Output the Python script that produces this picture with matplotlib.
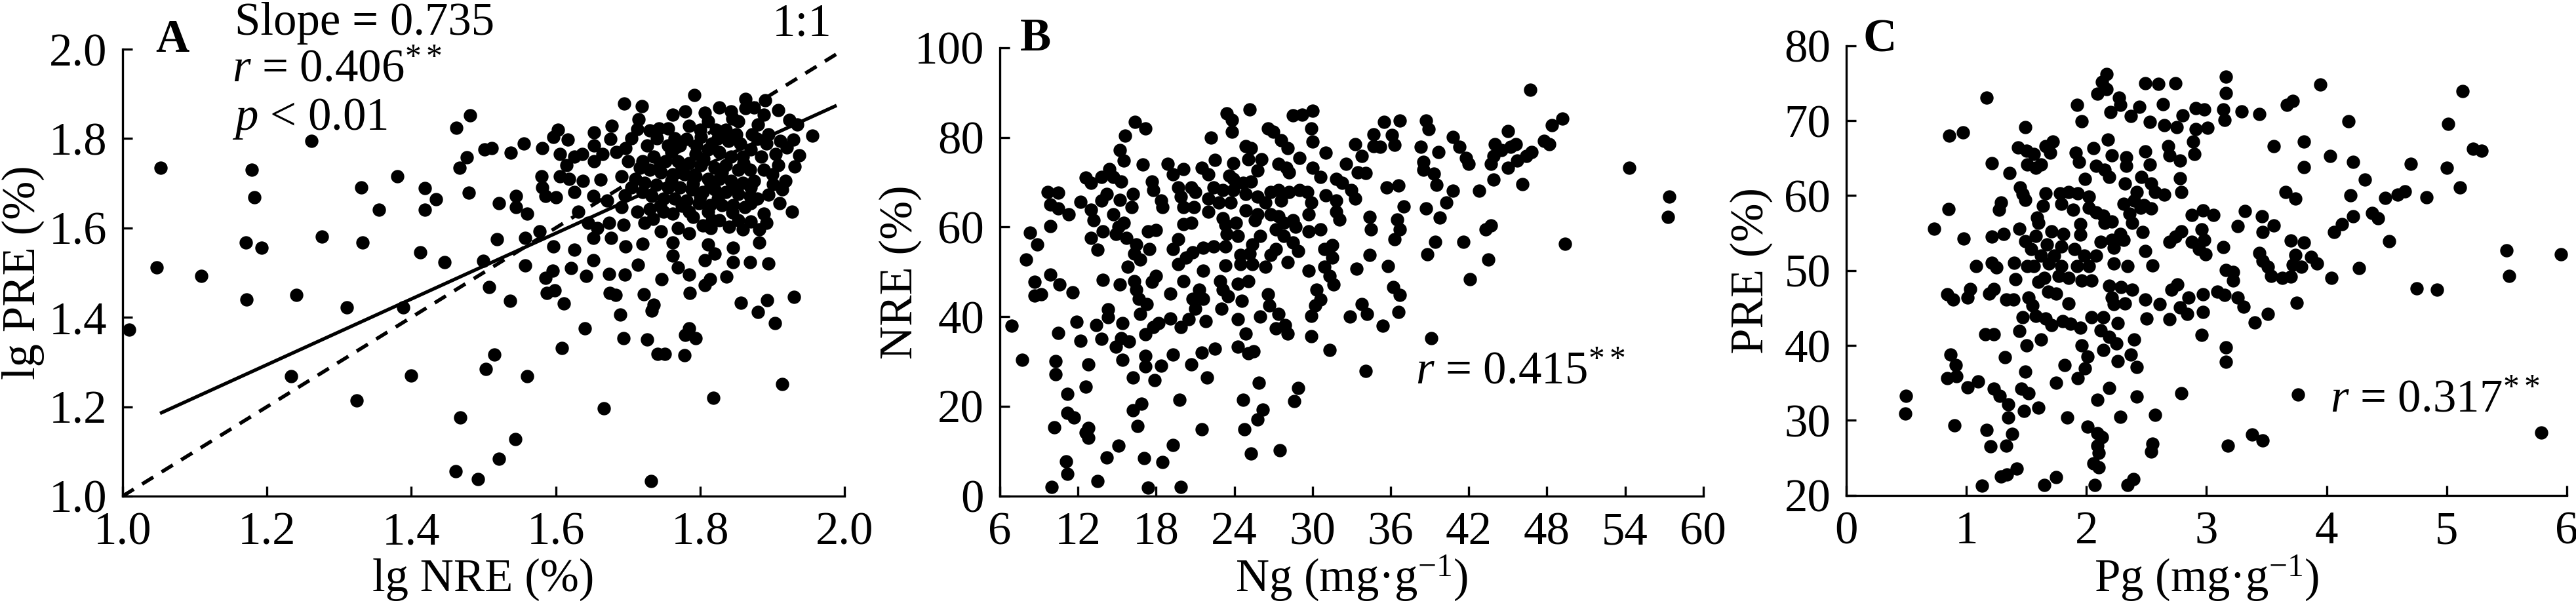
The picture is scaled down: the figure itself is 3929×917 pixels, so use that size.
import matplotlib
matplotlib.use("Agg")
import matplotlib.pyplot as plt

plt.rcParams['font.family'] = ['Liberation Serif', 'DejaVu Serif']
plt.rcParams['mathtext.fontset'] = 'custom'
plt.rcParams['mathtext.rm'] = 'Liberation Serif'
plt.rcParams['mathtext.it'] = 'Liberation Serif:italic'
plt.rcParams['mathtext.bf'] = 'Liberation Serif:bold'

# panel A: lg NRE vs lg PRE
a_pts = [
    (1.009, 1.372), (1.053, 1.735), (1.047, 1.511), (1.109, 1.493), (1.179, 1.730), (1.183, 1.668),
    (1.171, 1.567), (1.193, 1.556), (1.172, 1.440), (1.241, 1.450), (1.262, 1.795), (1.276, 1.580),
    (1.233, 1.268), (1.311, 1.423), (1.324, 1.214), (1.331, 1.691), (1.332, 1.567), (1.355, 1.641),
    (1.381, 1.715), (1.389, 1.423), (1.400, 1.270), (1.412, 1.546), (1.419, 1.689), (1.419, 1.641),
    (1.434, 1.664), (1.446, 1.524), (1.462, 1.824), (1.481, 1.852), (1.467, 1.735), (1.477, 1.758),
    (1.480, 1.679), (1.468, 1.176), (1.461, 1.056), (1.492, 1.038), (1.500, 1.527), (1.501, 1.775),
    (1.792, 1.897), (1.695, 1.878), (1.719, 1.872), (1.715, 1.843), (1.713, 1.821), (1.762, 1.853),
    (1.779, 1.860), (1.807, 1.858), (1.827, 1.870), (1.843, 1.860), (1.863, 1.888), (1.863, 1.868),
    (1.890, 1.885), (1.908, 1.863), (1.924, 1.841), (1.935, 1.831), (1.956, 1.806), (1.929, 1.797),
    (1.937, 1.762), (1.931, 1.738), (1.918, 1.706), (1.914, 1.686), (1.901, 1.698), (1.927, 1.637),
    (1.908, 1.740), (1.905, 1.765), (1.911, 1.794), (1.888, 1.853), (1.880, 1.831), (1.872, 1.809),
    (1.853, 1.838), (1.836, 1.819), (1.822, 1.819), (1.811, 1.838), (1.785, 1.829), (1.781, 1.799),
    (1.801, 1.804), (1.817, 1.789), (1.839, 1.794), (1.856, 1.789), (1.879, 1.799), (1.892, 1.789),
    (1.859, 1.760), (1.885, 1.760), (1.843, 1.760), (1.827, 1.770), (1.811, 1.775), (1.794, 1.765),
    (1.772, 1.784), (1.756, 1.784), (1.743, 1.823), (1.756, 1.823), (1.730, 1.818), (1.727, 1.784),
    (1.736, 1.760), (1.752, 1.750), (1.769, 1.750), (1.785, 1.745), (1.801, 1.740), (1.820, 1.735),
    (1.836, 1.740), (1.853, 1.730), (1.869, 1.730), (1.888, 1.730), (1.875, 1.706), (1.859, 1.701),
    (1.843, 1.706), (1.827, 1.710), (1.811, 1.710), (1.794, 1.715), (1.778, 1.720), (1.762, 1.720),
    (1.746, 1.725), (1.730, 1.730), (1.717, 1.735), (1.710, 1.710), (1.723, 1.701), (1.739, 1.696),
    (1.756, 1.691), (1.772, 1.691), (1.788, 1.686), (1.804, 1.681), (1.820, 1.686), (1.836, 1.681),
    (1.853, 1.676), (1.869, 1.671), (1.879, 1.666), (1.862, 1.646), (1.846, 1.651), (1.830, 1.651),
    (1.814, 1.651), (1.798, 1.656), (1.781, 1.661), (1.765, 1.666), (1.749, 1.666), (1.733, 1.671),
    (1.713, 1.637), (1.730, 1.642), (1.749, 1.637), (1.762, 1.632), (1.785, 1.637), (1.811, 1.637),
    (1.827, 1.617), (1.853, 1.617), (1.888, 1.632), (1.892, 1.612), (1.882, 1.597), (1.859, 1.597),
    (1.840, 1.602), (1.817, 1.617), (1.804, 1.605), (1.785, 1.588), (1.769, 1.600), (1.746, 1.593),
    (1.723, 1.612), (1.694, 1.607), (1.696, 1.673), (1.691, 1.715), (1.684, 1.770), (1.678, 1.828),
    (1.676, 1.799), (1.665, 1.765), (1.697, 1.779), (1.653, 1.814), (1.653, 1.784), (1.653, 1.750),
    (1.637, 1.765), (1.626, 1.760), (1.615, 1.740), (1.606, 1.765), (1.603, 1.819), (1.597, 1.804),
    (1.581, 1.779), (1.617, 1.797), (1.556, 1.789), (1.538, 1.769), (1.511, 1.779), (1.580, 1.715),
    (1.581, 1.691), (1.586, 1.671), (1.600, 1.669), (1.606, 1.715), (1.619, 1.710), (1.638, 1.706),
    (1.662, 1.708), (1.626, 1.681), (1.652, 1.671), (1.671, 1.661), (1.691, 1.646), (1.631, 1.637),
    (1.645, 1.612), (1.658, 1.600), (1.674, 1.612), (1.677, 1.578), (1.652, 1.578), (1.545, 1.671),
    (1.521, 1.656), (1.545, 1.646), (1.560, 1.632), (1.519, 1.575), (1.558, 1.578), (1.578, 1.592),
    (1.597, 1.558), (1.626, 1.551), (1.652, 1.528), (1.558, 1.516), (1.697, 1.558), (1.720, 1.565),
    (1.762, 1.568), (1.762, 1.538), (1.769, 1.511), (1.811, 1.563), (1.820, 1.543), (1.846, 1.555),
    (1.882, 1.568), (1.869, 1.523), (1.895, 1.521), (1.846, 1.523), (1.807, 1.528),
    (1.596, 1.504), (1.586, 1.488), (1.621, 1.510), (1.642, 1.493), (1.674, 1.497), (1.696, 1.495),
    (1.714, 1.517), (1.747, 1.486), (1.785, 1.496), (1.814, 1.486), (1.807, 1.472), (1.837, 1.491),
    (1.508, 1.468), (1.537, 1.437), (1.588, 1.455), (1.599, 1.461), (1.611, 1.431), (1.675, 1.455),
    (1.683, 1.450), (1.722, 1.452), (1.736, 1.428), (1.733, 1.415), (1.689, 1.406), (1.786, 1.455),
    (1.857, 1.433), (1.893, 1.438), (1.880, 1.412), (1.930, 1.446), (1.904, 1.387), (1.640, 1.376),
    (1.694, 1.353), (1.727, 1.351), (1.785, 1.376), (1.779, 1.361), (1.794, 1.354), (1.741, 1.318),
    (1.751, 1.318), (1.778, 1.315), (1.609, 1.331), (1.515, 1.317), (1.503, 1.285), (1.560, 1.269),
    (1.667, 1.196), (1.544, 1.127), (1.521, 1.084), (1.818, 1.220), (1.914, 1.251), (1.732, 1.034),
    # dense core, where the dots merge into a solid patch
    (1.745, 1.745), (1.760, 1.705), (1.775, 1.735), (1.790, 1.700), (1.805, 1.755), (1.815, 1.695),
    (1.830, 1.725), (1.845, 1.690), (1.860, 1.745), (1.870, 1.690), (1.795, 1.785), (1.825, 1.800),
    (1.850, 1.810), (1.870, 1.775), (1.765, 1.800), (1.740, 1.800), (1.720, 1.750), (1.720, 1.680),
    (1.745, 1.650), (1.775, 1.650), (1.800, 1.670), (1.825, 1.665), (1.845, 1.635), (1.870, 1.655),
    (1.895, 1.675), (1.900, 1.720), (1.895, 1.810), (1.845, 1.845), (1.800, 1.820), (1.760, 1.770),
    (1.790, 1.625), (1.735, 1.620), (1.705, 1.690), (1.700, 1.750), (1.705, 1.800), (1.815, 1.600),
    (1.870, 1.615), (1.910, 1.655), (1.920, 1.780), (1.875, 1.870),
]
a_x = [p[0] for p in a_pts]
a_y = [p[1] for p in a_pts]
a_slope = 0.735
a_intercept = 0.412
a_fit_x = [1.054, 1.987]

# panel B: Ng vs NRE
b_pts = [
    (16.4, 83.5), (17.2, 82.0), (15.6, 80.4), (15.2, 77.1), (15.5, 74.9), (17.0, 73.9), (18.9, 74.1),
    (20.1, 72.9), (19.3, 71.7), (21.5, 73.2), (22.0, 71.7), (22.2, 80.0), (23.4, 85.4), (23.8, 83.9),
    (23.8, 81.2), (25.2, 86.2), (22.5, 75.0), (23.9, 74.2), (23.6, 71.5), (24.9, 78.0), (25.3, 77.6),
    (25.1, 75.1), (26.1, 75.1), (25.8, 72.7), (25.3, 70.2), (26.6, 82.0), (27.0, 81.2), (27.6, 79.3),
    (28.1, 77.6), (27.4, 74.1), (28.0, 73.2), (28.2, 72.2), (29.0, 75.4), (28.5, 84.9), (29.2, 85.1),
    (30.0, 85.9), (29.9, 82.0), (30.0, 79.0), (31.0, 76.6), (30.0, 73.2), (30.6, 71.2), (31.8, 70.7),
    (32.3, 69.8), (32.6, 74.1), (33.3, 78.5), (33.8, 75.9), (33.5, 72.2), (34.1, 72.0), (34.7, 80.7),
    (34.7, 78.0), (33.0, 68.3), (33.3, 66.3), (31.0, 67.1), (31.8, 65.9), (31.8, 63.4), (32.1, 61.7),
    (29.6, 67.8), (29.9, 65.4), (29.7, 62.9), (29.7, 59.0), (30.6, 59.5), (29.0, 68.3), (28.2, 67.8),
    (27.4, 68.3), (26.8, 67.8), (26.4, 65.4), (27.6, 65.9), (25.8, 66.8), (24.9, 67.3), (24.7, 69.8),
    (23.9, 70.7), (23.9, 68.3), (23.7, 65.4), (23.1, 68.3), (22.4, 68.8), (22.0, 66.3), (22.8, 65.4),
    (22.0, 63.4), (23.1, 62.0), (24.1, 61.0), (24.9, 63.7), (25.8, 62.9), (25.6, 61.5), (26.8, 62.9),
    (27.4, 62.4), (27.8, 61.0), (28.5, 61.5), (28.7, 60.0), (27.2, 59.5), (27.8, 58.0), (28.5, 56.6),
    (28.9, 54.6), (28.1, 52.2), (27.2, 55.1), (26.8, 53.7), (26.0, 58.0), (25.4, 56.1), (25.2, 54.1),
    (24.5, 53.7), (24.5, 51.7), (25.4, 51.7), (26.4, 51.2), (24.3, 58.0), (23.3, 60.5), (23.4, 58.5),
    (23.3, 55.6), (22.4, 55.6), (21.6, 55.4), (20.8, 54.4), (20.3, 53.2), (19.7, 51.7), (19.3, 55.1),
    (19.7, 57.3), (21.6, 50.2), (23.3, 51.5), (20.7, 61.0), (20.1, 60.7), (20.1, 64.4), (20.9, 64.4),
    (20.7, 68.8), (21.0, 67.8), (19.7, 68.8), (19.9, 66.8), (18.4, 65.9), (18.5, 64.4), (17.7, 70.2),
    (17.8, 68.3), (16.2, 67.3), (16.1, 64.4), (15.2, 66.1), (15.3, 70.2), (14.7, 71.2), (14.4, 72.9),
    (13.8, 71.2), (13.0, 69.8), (12.6, 71.0), (14.2, 67.3), (13.8, 65.9), (12.2, 65.6), (13.0, 63.9),
    (13.2, 61.5), (13.9, 59.0), (14.7, 62.9), (15.1, 60.0), (14.9, 58.5), (15.5, 61.0), (15.7, 57.6),
    (16.5, 56.1), (16.3, 54.1), (16.8, 52.7), (15.8, 51.2), (17.4, 59.0), (18.0, 59.3), (17.5, 55.1),
    (13.0, 57.6), (13.5, 54.9), (9.7, 67.8), (10.5, 67.6), (9.9, 65.1), (10.5, 64.1), (11.3, 62.9),
    (9.9, 60.2), (8.3, 58.8), (8.9, 56.1), (8.0, 52.7), (30.9, 55.1), (31.5, 55.9), (31.5, 53.2),
    (30.9, 51.2), (29.7, 50.2), (33.4, 50.7), (34.4, 53.7), (34.4, 62.2), (34.5, 59.5),
    (16.3, 47.9), (16.5, 46.0), (16.7, 44.0), (17.3, 42.8), (16.8, 40.6), (18.0, 49.1), (17.7, 47.7),
    (19.1, 45.1), (20.1, 47.9), (20.8, 44.0), (21.3, 46.0), (21.6, 44.0), (21.0, 41.8), (22.9, 47.9),
    (23.1, 46.0), (23.5, 44.5), (23.0, 41.8), (24.3, 47.4), (25.1, 47.9), (24.6, 43.6), (26.6, 45.0),
    (26.7, 42.5), (26.0, 40.0), (27.4, 40.6), (27.2, 37.4), (27.9, 38.1), (28.1, 36.2), (24.3, 39.5),
    (24.9, 36.2), (24.3, 33.3), (25.1, 31.8), (25.5, 32.3), (21.8, 39.0), (20.5, 39.4), (19.9, 37.7),
    (19.1, 39.6), (18.2, 38.6), (17.8, 37.7), (17.2, 36.0), (21.5, 32.0), (22.5, 32.8), (20.7, 29.3),
    (19.3, 31.5), (17.2, 31.3), (17.2, 28.9), (18.4, 29.0), (16.2, 26.4), (17.9, 25.9), (21.9, 26.4),
    (15.9, 34.5), (14.9, 33.3), (15.3, 35.2), (15.4, 38.6), (14.3, 41.6), (14.3, 39.9), (13.4, 38.1),
    (13.8, 35.0), (11.9, 38.9), (12.2, 34.6), (10.5, 36.3), (6.9, 38.0), (7.7, 30.4), (10.3, 30.1),
    (10.3, 27.1), (12.8, 29.3), (15.4, 30.3), (12.6, 24.4), (11.2, 22.7), (11.2, 18.5), (11.7, 17.5),
    (10.2, 15.3), (12.8, 15.2), (12.6, 14.2), (12.8, 13.0), (15.1, 11.2), (14.2, 8.6), (11.1, 7.7),
    (11.2, 4.9), (10.0, 2.0), (13.5, 3.3), (17.4, 1.9), (19.9, 2.0), (17.1, 8.4), (18.5, 7.5),
    (19.3, 11.3), (16.6, 15.6), (16.2, 19.1), (16.9, 20.5), (19.8, 21.5), (21.5, 14.9), (24.7, 21.5),
    (24.8, 14.9), (25.8, 17.1), (26.2, 19.2), (25.3, 9.4), (27.5, 10.2), (25.9, 25.2), (28.9, 24.1),
    (28.6, 21.2), (31.3, 32.5), (34.1, 27.9), (32.9, 40.0), (33.8, 42.8), (34.2, 40.6), (29.9, 40.2),
    (29.9, 35.7), (30.3, 46.0), (30.6, 43.8), (30.2, 42.5), (31.3, 49.1), (31.6, 47.2), (8.7, 47.7),
    (9.9, 49.4), (10.6, 47.2), (11.6, 45.5), (8.7, 44.7), (9.2, 45.0), (13.9, 48.2), (15.2, 47.2),
    (46.7, 90.6), (54.3, 73.2), (57.4, 66.8), (57.3, 62.3), (49.4, 56.3), (49.2, 84.2), (48.4, 82.7),
    (48.2, 78.5), (47.8, 79.2), (46.8, 76.7), (46.4, 75.8), (45.7, 74.9), (46.1, 69.6), (45.0, 73.2),
    (45.0, 81.4), (45.6, 78.5), (45.2, 77.9), (44.5, 77.1), (44.0, 78.5), (43.9, 75.8), (43.7, 74.1),
    (43.9, 70.6), (43.7, 60.3), (43.3, 59.5), (43.5, 52.8), (42.8, 68.1), (42.0, 74.1), (41.8, 75.4),
    (41.3, 77.9), (40.8, 80.1), (41.6, 56.7), (42.1, 48.3), (40.8, 68.1), (40.3, 65.5), (39.8, 62.1),
    (39.5, 69.4), (39.7, 76.7), (39.3, 71.9), (39.4, 56.7), (38.7, 83.7), (38.9, 81.8), (38.3, 77.9),
    (38.5, 74.5), (38.5, 72.8), (38.7, 64.2), (38.8, 53.9), (39.1, 35.2), (36.7, 83.7), (36.7, 59.5),
    (36.5, 61.6), (37.0, 64.6), (36.3, 57.3), (36.2, 46.6), (36.7, 44.9), (36.6, 41.0), (36.6, 69.2),
    (36.1, 80.5), (36.3, 78.4), (35.5, 83.5), (35.2, 77.9), (35.7, 68.9), (35.8, 51.3), (35.4, 38.0),
]
b_x = [p[0] for p in b_pts]
b_y = [p[1] for p in b_pts]

# panel C: Pg vs PRE
c_pts = [
    (2.17, 76.2), (2.13, 75.2), (2.17, 74.2), (2.09, 73.6), (2.49, 75.0), (2.60, 74.9), (2.74, 75.0),
    (1.17, 73.1), (1.92, 72.1), (2.27, 73.1), (2.28, 72.1), (2.20, 71.1), (1.96, 69.9), (2.44, 71.8),
    (2.37, 70.6), (2.64, 72.2), (2.53, 69.8), (2.65, 69.4), (2.75, 69.1), (2.80, 70.7), (2.91, 71.7),
    (2.98, 71.5), (2.91, 68.9), (3.01, 69.0), (3.16, 75.9), (3.16, 73.7), (3.14, 71.5), (3.15, 70.1),
    (1.49, 69.1), (0.86, 68.0), (0.97, 68.4), (1.43, 66.4), (1.50, 66.0), (1.56, 65.5), (1.72, 67.2),
    (1.66, 66.6), (1.70, 65.7), (1.51, 64.1), (1.58, 63.7), (1.62, 64.1), (1.21, 64.3), (1.36, 63.0),
    (1.91, 65.7), (2.06, 66.3), (2.18, 67.5), (2.21, 65.4), (1.94, 64.5), (2.08, 64.0), (2.15, 63.4),
    (2.19, 62.5), (2.33, 65.1), (2.33, 64.0), (2.49, 65.9), (2.53, 64.1), (2.68, 66.6), (2.69, 65.4),
    (2.78, 64.7), (2.89, 67.2), (2.90, 65.5), (1.99, 62.2), (2.32, 61.6), (2.46, 62.5), (2.54, 61.6),
    (2.57, 60.5), (2.65, 60.1), (2.78, 62.3), (2.79, 60.5), (2.42, 60.5), (2.40, 59.3), (2.31, 58.9),
    (2.48, 58.7), (2.54, 58.3), (2.36, 57.6), (2.38, 56.4), (2.45, 58.4), (1.45, 61.1), (1.47, 60.2),
    (1.49, 59.4), (1.29, 59.1), (1.27, 58.1), (0.85, 58.2), (1.66, 60.3), (1.78, 60.3), (1.85, 60.5),
    (1.93, 60.3), (2.02, 59.9), (1.79, 58.9), (1.89, 58.1), (1.64, 58.6), (1.59, 57.1), (1.60, 56.4),
    (2.02, 58.4), (2.08, 57.8), (2.14, 57.3), (2.15, 56.4), (2.21, 56.5), (1.95, 56.2), (1.95, 54.8),
    (2.88, 57.4), (2.97, 58.0), (3.06, 57.4), (0.73, 55.6), (0.98, 54.3), (1.21, 54.5), (1.31, 54.9),
    (1.44, 55.6), (1.49, 53.9), (1.54, 52.9), (1.58, 54.6), (1.71, 55.2), (1.67, 53.5), (1.81, 54.9),
    (1.79, 53.2), (1.90, 52.9), (1.98, 52.0), (1.73, 52.0), (1.62, 52.0), (1.56, 50.6), (1.69, 50.9),
    (1.79, 50.6), (1.92, 50.6), (2.02, 50.6), (2.08, 52.0), (2.12, 53.8), (2.21, 54.1), (2.28, 54.9),
    (2.31, 54.1), (2.23, 53.0), (2.23, 50.9), (2.34, 50.6), (2.47, 55.1), (2.49, 52.6), (2.55, 50.7),
    (2.69, 53.8), (2.74, 54.5), (2.79, 55.2), (2.88, 53.8), (2.96, 55.5), (2.98, 54.1), (2.94, 52.9),
    (2.99, 52.2), (3.14, 53.1), (3.16, 50.1), (1.08, 50.6), (1.21, 51.0), (1.25, 50.4), (1.40, 51.0),
    (1.51, 50.6),
    (1.41, 48.8), (1.65, 49.0), (1.60, 48.5), (1.77, 49.3), (1.85, 49.0), (1.96, 48.7), (2.04, 48.7),
    (0.84, 46.8), (0.89, 46.1), (1.01, 46.4), (1.03, 47.5), (1.19, 46.9), (1.23, 47.5), (1.33, 46.1),
    (1.39, 46.1), (1.52, 46.4), (1.55, 45.3), (1.68, 47.2), (1.75, 46.9), (1.85, 45.6), (2.19, 48.0),
    (2.29, 47.8), (2.38, 47.4), (2.21, 46.4), (2.23, 45.5), (2.32, 45.6), (2.49, 46.1), (2.61, 45.5),
    (2.50, 43.6), (2.76, 48.1), (2.71, 47.4), (2.85, 46.4), (2.97, 46.8), (3.09, 47.2), (3.15, 46.7),
    (2.78, 45.1), (2.84, 44.2), (2.69, 43.5), (2.97, 44.5), (2.96, 41.4), (1.47, 43.8), (1.58, 43.9),
    (1.66, 43.6), (1.71, 42.7), (1.80, 43.2), (1.87, 42.9), (1.95, 42.4), (2.04, 43.8), (2.14, 43.8),
    (2.26, 43.0), (2.12, 42.0), (2.19, 41.1), (2.25, 40.3), (2.26, 37.9), (2.37, 38.8), (2.40, 40.8),
    (2.42, 37.1), (2.14, 39.4), (1.44, 41.9), (1.50, 40.0), (1.62, 40.8), (1.16, 41.5), (1.23, 41.5),
    (1.96, 40.0), (2.01, 38.5), (1.99, 36.9), (1.93, 35.6), (1.82, 37.4), (1.75, 35.0), (1.32, 38.4),
    (1.49, 36.5), (0.87, 38.8), (0.91, 37.4), (0.84, 35.6), (0.92, 35.9), (1.10, 35.2), (1.01, 34.4),
    (1.23, 34.2), (1.28, 33.3), (1.35, 32.1), (1.35, 30.4), (1.46, 34.2), (1.52, 33.6), (1.48, 31.3),
    (1.60, 31.7), (1.84, 30.4), (2.01, 29.2), (2.09, 32.7), (2.19, 34.3), (2.42, 33.2), (2.28, 30.5),
    (2.57, 30.7), (2.79, 33.6), (0.50, 33.3), (0.49, 30.9), (0.90, 29.3), (1.17, 28.7), (1.38, 28.2),
    (1.20, 26.5), (1.33, 26.6), (2.09, 28.3), (2.13, 27.8), (2.09, 26.6), (2.10, 25.7), (2.06, 24.3),
    (2.10, 23.7), (2.55, 26.9), (2.54, 25.8), (1.42, 23.6), (1.34, 22.8), (1.29, 22.5), (1.13, 21.3),
    (1.65, 21.4), (1.75, 22.4), (2.07, 21.4), (2.34, 21.4), (2.39, 22.2), (3.18, 26.6), (3.16, 39.7),
    (3.16, 37.8),
    (3.95, 74.8), (5.13, 73.9), (3.72, 72.6), (3.67, 72.1), (3.44, 70.9), (3.29, 71.2), (4.18, 69.9),
    (5.01, 69.6), (3.56, 66.6), (3.81, 67.2), (4.03, 65.3), (4.22, 64.5), (3.81, 63.8), (4.32, 62.1),
    (4.70, 64.2), (5.00, 63.7), (5.22, 66.2), (5.29, 66.0), (5.11, 61.1), (3.66, 60.5), (3.74, 59.6),
    (4.20, 60.0), (4.49, 59.7), (4.59, 60.1), (4.65, 60.6), (4.83, 59.8), (3.32, 57.9), (3.46, 57.2),
    (3.56, 56.0), (3.47, 55.1), (3.26, 55.9), (4.22, 57.2), (4.13, 56.2), (4.06, 55.1), (4.38, 57.7),
    (4.43, 57.0), (4.52, 53.9), (3.70, 54.0), (3.81, 53.7), (3.74, 52.1), (3.44, 52.3), (3.47, 51.3),
    (3.51, 50.5), (3.72, 50.8), (3.79, 50.5), (3.87, 51.8), (3.92, 50.9), (4.04, 49.0), (4.27, 50.3),
    (3.54, 49.3), (3.63, 49.0), (3.70, 49.2), (3.22, 49.8), (3.22, 48.7), (5.50, 52.7), (5.52, 49.3),
    (5.95, 52.2), (4.75, 47.6), (4.92, 47.4), (3.75, 45.7), (3.51, 44.2), (3.40, 43.1), (3.31, 45.2),
    (3.26, 46.4), (3.76, 33.4), (5.79, 28.4), (3.38, 28.1), (3.47, 27.3),
]
c_x = [p[0] for p in c_pts]
c_y = [p[1] for p in c_pts]

FS = 51
DOT = 215

fig = plt.figure(figsize=(39.29, 9.17), dpi=100)
ax_a = fig.add_axes([0.0476, 0.1745, 0.2802, 0.7437])
ax_b = fig.add_axes([0.3881, 0.1749, 0.2731, 0.7456])
ax_c = fig.add_axes([0.7167, 0.1759, 0.2797, 0.7481])


def style(ax, xlim, ylim, xticks, yticks, fmt):
    ax.set_xlim(*xlim)
    ax.set_ylim(*ylim)
    ax.set_xticks(xticks)
    ax.set_yticks(yticks)
    ax.set_xticklabels([fmt.format(v) for v in xticks])
    ax.set_yticklabels([fmt.format(v) for v in yticks])
    for s in ['top', 'right']:
        ax.spines[s].set_visible(False)
    for s in ['left', 'bottom']:
        ax.spines[s].set_linewidth(2.4)
    ax.tick_params(direction='in', length=11, width=2.4, labelsize=FS)
    ax.tick_params(axis='y', pad=17)
    ax.tick_params(axis='x', pad=17)


# A
ax_a.scatter(a_x, a_y, s=DOT, c='black', linewidths=0, clip_on=False, zorder=3)
ax_a.plot([1.0, 2.0], [1.0, 2.0], color='black', lw=4.0, ls=(0, (3.6, 2.7)), zorder=2)
ax_a.plot(a_fit_x, [a_intercept + a_slope * v for v in a_fit_x], color='black', lw=3.8, zorder=2)
style(ax_a, (1.0, 2.0), (1.0, 2.0), [1.0, 1.2, 1.4, 1.6, 1.8, 2.0],
      [1.0, 1.2, 1.4, 1.6, 1.8, 2.0], '{:.1f}')
ax_a.set_xlabel('lg NRE (%)', fontsize=FS)
ax_a.set_ylabel('lg PRE (%)', fontsize=FS)
ax_a.text(0.046, 0.994, 'A', transform=ax_a.transAxes, fontsize=FS, fontweight='bold',
          va='baseline', ha='left')
ax_a.text(0.155, 1.033, 'Slope = 0.735', transform=ax_a.transAxes, fontsize=FS,
          va='baseline', ha='left')
ax_a.text(0.152, 0.928, r'$r$ = 0.406$^{**}$', transform=ax_a.transAxes, fontsize=FS,
          va='baseline', ha='left')
ax_a.text(0.152, 0.820, r'$p$ < 0.01', transform=ax_a.transAxes, fontsize=FS,
          va='baseline', ha='left')
ax_a.text(0.900, 1.030, '1:1', transform=ax_a.transAxes, fontsize=FS,
          va='baseline', ha='left')

# B
ax_b.scatter(b_x, b_y, s=DOT, c='black', linewidths=0, clip_on=False, zorder=3)
style(ax_b, (6, 60), (0, 100), [6, 12, 18, 24, 30, 36, 42, 48, 54, 60],
      [0, 20, 40, 60, 80, 100], '{:d}')
ax_b.set_xlabel('Ng (mg·g$^{−1}$)', fontsize=FS)
ax_b.set_ylabel('NRE (%)', fontsize=FS)
ax_b.text(0.029, 0.994, 'B', transform=ax_b.transAxes, fontsize=FS, fontweight='bold',
          va='baseline', ha='left')
ax_b.text(37.9, 25.1, r'$r$ = 0.415$^{**}$', fontsize=FS, va='baseline', ha='left')

# C
ax_c.scatter(c_x, c_y, s=DOT, c='black', linewidths=0, clip_on=False, zorder=3)
style(ax_c, (0, 6), (20, 80), [0, 1, 2, 3, 4, 5, 6],
      [20, 30, 40, 50, 60, 70, 80], '{:d}')
ax_c.set_xlabel('Pg (mg·g$^{−1}$)', fontsize=FS)
ax_c.set_ylabel('PRE (%)', fontsize=FS)
ax_c.text(0.023, 0.987, 'C', transform=ax_c.transAxes, fontsize=FS, fontweight='bold',
          va='baseline', ha='left')
ax_c.text(4.03, 31.1, r'$r$ = 0.317$^{**}$', fontsize=FS, va='baseline', ha='left')

for ax, yx in [(ax_a, -0.108), (ax_b, -0.111), (ax_c, -0.102)]:
    ax.xaxis.label.set_va('baseline')
    ax.xaxis.set_label_coords(0.5, -0.2126)
    ax.yaxis.set_label_coords(yx, 0.5)

fig.savefig('out.png', dpi=100)
